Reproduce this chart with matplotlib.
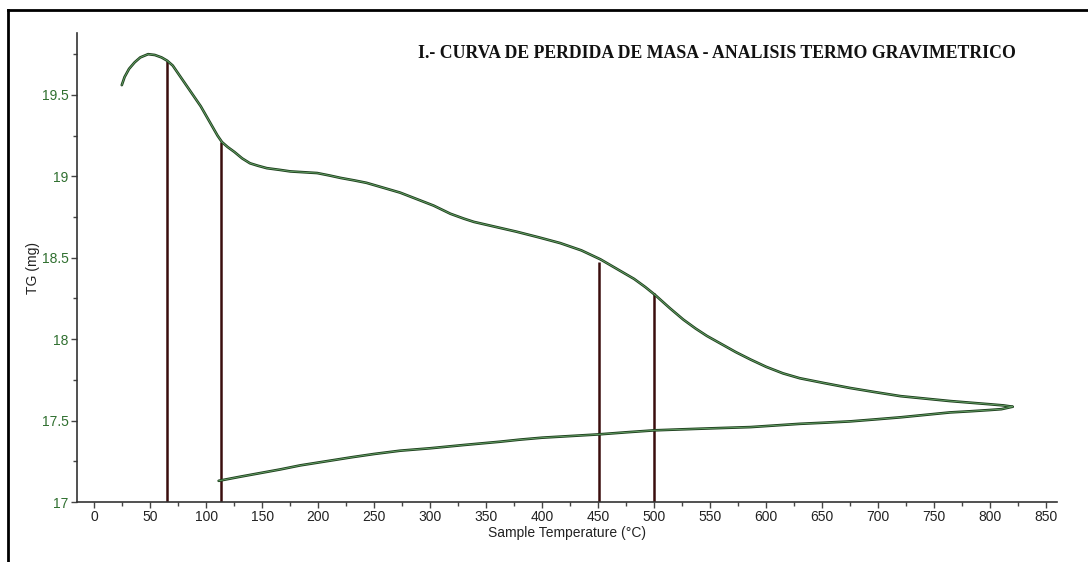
import matplotlib
matplotlib.use("Agg")
import matplotlib.pyplot as plt
from matplotlib.lines import Line2D
from matplotlib.ticker import MultipleLocator

# ---- data ----
heat_T = [24.5, 27, 31, 36, 41, 48, 54, 60, 65, 70, 75, 80, 85, 90, 95, 100, 105,
          110, 114, 119, 125, 132, 139, 146, 154, 165, 175, 187, 199, 210, 220,
          232, 243, 258, 273, 288, 303, 318, 330, 339, 358, 377, 397, 416, 435,
          452, 467, 482, 492, 501, 514, 526, 537, 547, 560, 573, 586, 600, 615,
          630, 652, 675, 697, 720, 742, 764, 782, 800, 812, 820]
heat_TG = [19.56, 19.61, 19.66, 19.70, 19.73, 19.75, 19.745, 19.73, 19.71, 19.68,
           19.63, 19.58, 19.53, 19.48, 19.43, 19.37, 19.31, 19.25, 19.21, 19.18,
           19.15, 19.11, 19.08, 19.065, 19.05, 19.04, 19.03, 19.025, 19.02, 19.005,
           18.99, 18.975, 18.96, 18.93, 18.90, 18.86, 18.82, 18.77, 18.74, 18.72,
           18.69, 18.66, 18.625, 18.59, 18.545, 18.49, 18.43, 18.37, 18.32, 18.27,
           18.19, 18.12, 18.065, 18.02, 17.97, 17.92, 17.875, 17.83, 17.79, 17.76,
           17.73, 17.70, 17.675, 17.65, 17.635, 17.62, 17.61, 17.60, 17.593, 17.585]
cool_T = [820, 810, 800, 782, 764, 742, 720, 697, 675, 652, 630, 608, 586, 563,
          541, 520, 500, 475, 450, 425, 400, 380, 362, 330, 300, 273, 250, 230,
          207, 184, 166, 150, 130, 111]
cool_TG = [17.585, 17.57, 17.565, 17.557, 17.55, 17.535, 17.52, 17.507, 17.495,
           17.487, 17.48, 17.47, 17.46, 17.455, 17.45, 17.445, 17.44, 17.428,
           17.415, 17.405, 17.395, 17.383, 17.37, 17.35, 17.33, 17.315, 17.295,
           17.275, 17.25, 17.225, 17.20, 17.18, 17.155, 17.13]
marker_T = [65, 113, 451, 500]
marker_top = [19.71, 19.21, 18.475, 18.285]

xticks = list(range(0, 851, 50))
yticks = [17, 17.5, 18, 18.5, 19, 19.5]
ytick_labels = ["17", "17.5", "18", "18.5", "19", "19.5"]

title = "I.- CURVA DE PERDIDA DE MASA - ANALISIS TERMO GRAVIMETRICO"
xlabel = "Sample Temperature (°C)"
ylabel = "TG (mg)"

# ---- figure ----
W, H = 1088, 562
fig = plt.figure(figsize=(W / 100, H / 100), dpi=100)
fig.patch.set_facecolor("white")
ax = fig.add_axes([77 / W, (H - 502) / H, (1057 - 77) / W, (502 - 33) / H])

line_dark = "#1e3f1e"
line_light = "#6aa86a"
for T, G in [(heat_T, heat_TG), (cool_T, cool_TG)]:
    ax.plot(T, G, color=line_dark, lw=1.9, solid_capstyle="round",
            solid_joinstyle="round", zorder=3)
    ax.plot(T, G, color=line_light, lw=0.6, solid_joinstyle="round", zorder=4)

ax.vlines(marker_T, 17, marker_top, colors="#3a0d0d", lw=1.8, zorder=2)

ax.set_xlim(-15.5, 859.7)
ax.set_ylim(17, 19.88)
ax.set_xticks(xticks)
ax.set_yticks(yticks)
ax.set_yticklabels(ytick_labels)
ax.xaxis.set_minor_locator(MultipleLocator(25))
ax.yaxis.set_minor_locator(MultipleLocator(0.25))

for s in ["top", "right"]:
    ax.spines[s].set_visible(False)
for s in ["left", "bottom"]:
    ax.spines[s].set_color("#333333")
    ax.spines[s].set_linewidth(1.2)

ax.tick_params(axis="both", which="major", direction="out", length=4, width=1,
               color="#444444", labelsize=10)
ax.tick_params(axis="both", which="minor", direction="out", length=3, width=1,
               color="#444444")
ax.tick_params(axis="y", labelcolor="#2f6f2f", pad=2)
ax.tick_params(axis="x", labelcolor="#222222", pad=2)
for lab in ax.get_xticklabels() + ax.get_yticklabels():
    lab.set_family("Liberation Sans")

fig.text(567 / W, 1 - 533 / H, xlabel, ha="center", va="center",
         fontsize=10, family="Liberation Sans", color="#222222")
fig.text(33 / W, 1 - 268 / H, ylabel, ha="center", va="center", rotation=90,
         fontsize=10, family="Liberation Sans", color="#222222")

fig.text(717 / W, 1 - 53 / H, title, ha="center", va="center",
         fontsize=12.8, fontweight="bold", family="Liberation Serif",
         color="#111111")

# outer frame (top and left edges)
fig.add_artist(Line2D([8 / W, 1.0], [1 - 10 / H, 1 - 10 / H], color="black", lw=2,
                      transform=fig.transFigure))
fig.add_artist(Line2D([8 / W, 8 / W], [0, 1 - 10 / H], color="black", lw=2,
                      transform=fig.transFigure))

fig.savefig("out.png", dpi=100)
